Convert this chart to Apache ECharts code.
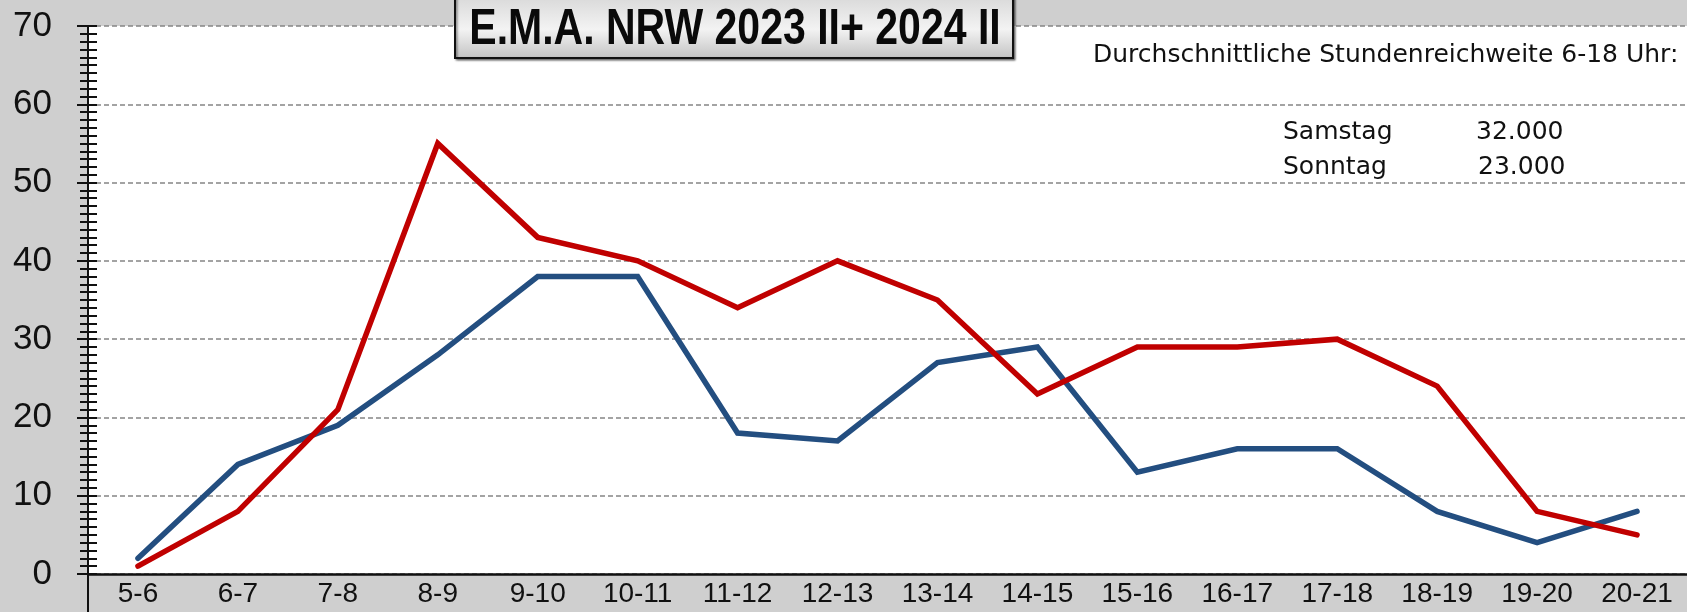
<!DOCTYPE html>
<html lang="de">
<head>
    <meta charset="utf-8">
    <title>E.M.A. NRW 2023 II+ 2024 II</title>
    <script src="https://cdn.jsdelivr.net/npm/echarts@6/dist/echarts.min.js"></script>
    <style>
        html, body { margin: 0; padding: 0; background: #cfcfcf; }
        #main { width: 1687px; height: 612px; }
    </style>
</head>
<body>
<div id="main"></div>

<script type="text/javascript">
    // Stundenintervalle
    var hours = ['5-6','6-7','7-8','8-9','9-10','10-11','11-12','12-13',
                 '13-14','14-15','15-16','16-17','17-18','18-19','19-20','20-21'];

    // Reichweite je Stunde (Tausend)
    var samstag = [1, 8, 21, 55, 43, 40, 34, 40, 35, 23, 29, 29, 30, 24, 8, 5];
    var sonntag = [2, 14, 19, 28, 38, 38, 18, 17, 27, 29, 13, 16, 16, 8, 4, 8];

    var yTicks = [0, 70, 10];   // min, max, interval

    var chartTitle = 'E.M.A. NRW 2023 II+ 2024 II';
    var infoHead = 'Durchschnittliche Stundenreichweite 6-18 Uhr:';
    var infoRows = [['Samstag', '32.000'], ['Sonntag', '23.000']];

    var myChart = echarts.init(document.getElementById('main'));

    var labelFont = 'Liberation Sans, Arial, sans-serif';
    var infoFont = 'DejaVu Sans, sans-serif';

    // Texte oben rechts
    var infoText = [{
        type: 'text', x: 1093, y: 55, z: 100,
        style: { text: infoHead, fontSize: 25, fontFamily: infoFont, fill: '#111', textVerticalAlign: 'middle' }
    }];
    infoRows.forEach(function (row, i) {
        var y = 132 + i * 35;
        infoText.push({
            type: 'text', x: 1283, y: y, z: 100,
            style: { text: row[0], fontSize: 25, fontFamily: infoFont, fill: '#111', textVerticalAlign: 'middle' }
        });
        infoText.push({
            type: 'text', x: 1476 + i * 2, y: y, z: 100,
            style: { text: row[1], fontSize: 25, fontFamily: infoFont, fill: '#111', textVerticalAlign: 'middle' }
        });
    });

    myChart.setOption({
        backgroundColor: '#cfcfcf',
        animation: false,
        grid: {
            left: 88, right: -12, top: 26, bottom: 38,
            show: true, backgroundColor: '#ffffff', borderWidth: 0
        },
        xAxis: {
            type: 'category',
            data: hours,
            boundaryGap: true,
            axisLine: { onZero: false, lineStyle: { color: '#111', width: 2.5 } },
            axisTick: { show: false },
            axisLabel: { color: '#111', fontSize: 28, fontFamily: labelFont, margin: 6 }
        },
        yAxis: [{
            type: 'value',
            position: 'left',
            min: yTicks[0], max: yTicks[1], interval: yTicks[2],
            axisLine: { show: true, lineStyle: { color: '#111', width: 2 } },
            axisTick: { show: true, length: 11, lineStyle: { color: '#111', width: 2 } },
            minorTick: { show: true, splitNumber: 10, length: 8, lineStyle: { color: '#111', width: 2 } },
            axisLabel: { color: '#111', fontSize: 35, fontFamily: labelFont, margin: 36 },
            splitLine: { show: true, lineStyle: { color: '#858585', width: 1.5, type: [5, 3] } }
        }, {
            type: 'value',
            position: 'left',
            min: yTicks[0], max: yTicks[1], interval: yTicks[2],
            axisLine: { show: false },
            axisTick: { show: true, inside: true, length: 9, lineStyle: { color: '#111', width: 2 } },
            minorTick: { show: true, splitNumber: 10, length: 9, lineStyle: { color: '#111', width: 2 } },
            axisLabel: { show: false },
            splitLine: { show: false }
        }],
        series: [{
            name: 'Sonntag',
            type: 'line',
            data: sonntag,
            symbol: 'none',
            lineStyle: { color: '#234e80', width: 5.5, cap: 'round', join: 'miter' },
            z: 3
        }, {
            name: 'Samstag',
            type: 'line',
            data: samstag,
            symbol: 'none',
            lineStyle: { color: '#c00000', width: 5.5, cap: 'round', join: 'miter' },
            z: 4
        }],
        graphic: [{
            // Verlängerung der y-Achse nach unten
            type: 'line', z: 50,
            shape: { x1: 88, y1: 574, x2: 88, y2: 612 },
            style: { stroke: '#111', lineWidth: 2 }
        }, {
            // Titelkasten
            type: 'rect', z: 90,
            shape: { x: 455, y: -6, width: 558, height: 64 },
            style: {
                fill: new echarts.graphic.LinearGradient(0, 0, 0, 1, [
                    { offset: 0, color: '#d6d6d6' },
                    { offset: 0.55, color: '#f3f3f3' },
                    { offset: 1, color: '#c2c2c2' }
                ]),
                stroke: '#111', lineWidth: 2,
                shadowColor: 'rgba(0,0,0,0.45)', shadowBlur: 2, shadowOffsetX: 1.5, shadowOffsetY: 1.5
            }
        }, {
            // Titel, horizontal gestaucht
            type: 'text', z: 95,
            x: 735, y: 30, scaleX: 0.82, scaleY: 1,
            style: {
                text: chartTitle,
                fontFamily: 'Liberation Sans, Arial, sans-serif',
                fontWeight: 'bold',
                fontSize: 50,
                fill: '#0a0a0a',
                textAlign: 'center', textVerticalAlign: 'middle'
            }
        }].concat(infoText)
    });
</script>
</body>
</html>
